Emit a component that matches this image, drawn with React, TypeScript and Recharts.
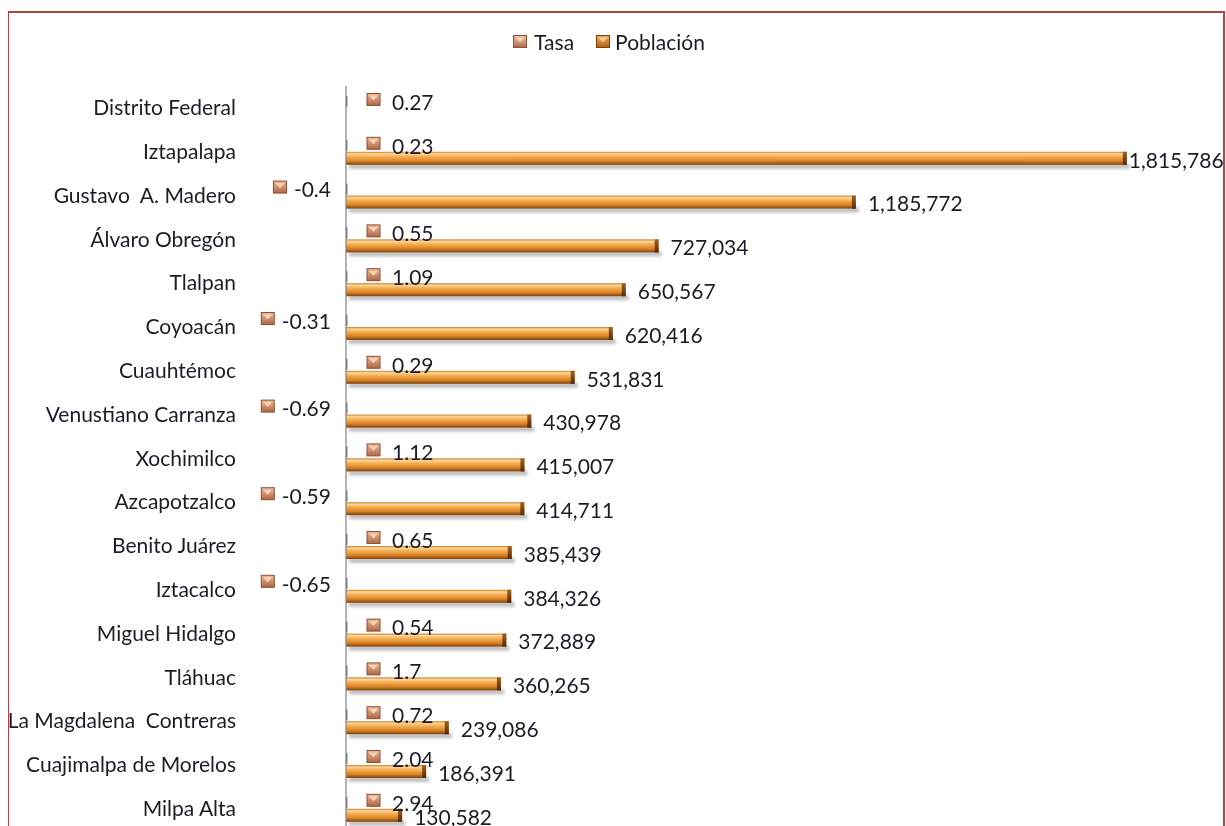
import React from 'react';
import { BarChart, Bar, XAxis, YAxis, Legend, LabelList } from 'recharts';

const categories = [
  'Distrito Federal',
  'Iztapalapa',
  'Gustavo  A. Madero',
  'Álvaro Obregón',
  'Tlalpan',
  'Coyoacán',
  'Cuauhtémoc',
  'Venustiano Carranza',
  'Xochimilco',
  'Azcapotzalco',
  'Benito Juárez',
  'Iztacalco',
  'Miguel Hidalgo',
  'Tláhuac',
  'La Magdalena  Contreras',
  'Cuajimalpa de Morelos',
  'Milpa Alta',
];

const tasaValues = [0.27, 0.23, -0.4, 0.55, 1.09, -0.31, 0.29, -0.69, 1.12, -0.59, 0.65, -0.65, 0.54, 1.7, 0.72, 2.04, 2.94];

const poblacionValues: (number | null)[] = [
  null, 1815786, 1185772, 727034, 650567, 620416, 531831, 430978, 415007,
  414711, 385439, 384326, 372889, 360265, 239086, 186391, 130582,
];

const seriesNames = ['Tasa', 'Población'];

const data = categories.map((name, i) => ({
  name,
  tasa: tasaValues[i],
  poblacion: poblacionValues[i],
}));

const FONT = 'Lato, "Open Sans", sans-serif';
const TEXT = '#1c1c28';
const FS = 21;
const CHART_W = 1218;
const LABEL_LIMIT = 1215;

function estWidth(s: string, fs: number) {
  let w = 0;
  for (const ch of s) {
    if (/[0-9]/.test(ch)) w += 0.58;
    else if (ch === '.' || ch === ',') w += 0.25;
    else if (ch === '-') w += 0.33;
    else w += 0.5;
  }
  return w * fs;
}

const fmt = (v: number) => v.toLocaleString('en-US');

const TasaIcon = ({ x, y }: { x: number; y: number }) => (
  <g>
    <rect x={x} y={y} width={13} height={12} fill="url(#tasaIconGrad)" stroke="#8e4f33" strokeWidth={1} />
    <path d={`M${x + 2},${y + 2} L${x + 11},${y + 2} L${x + 6.5},${y + 7} Z`} fill="#f8d8c0" opacity={0.9} />
  </g>
);

const TasaLabel = (props: any) => {
  const { x, y, height, value } = props;
  if (value == null) return null;
  const zero = Number(x);
  const cy = Number(y) + Number(height) / 2;
  const txt = String(value);
  if (value >= 0) {
    return (
      <g>
        <TasaIcon x={zero + 21} y={cy - 8} />
        <text x={zero + 46} y={cy + 1} dy="0.35em" fontFamily={FONT} fontSize={FS} fill={TEXT}>
          {txt}
        </text>
      </g>
    );
  }
  const w = estWidth(txt, FS);
  const end = zero - 15;
  return (
    <g>
      <TasaIcon x={end - w - 8 - 13} y={cy - 8} />
      <text x={end} y={cy + 1} dy="0.35em" textAnchor="end" fontFamily={FONT} fontSize={FS} fill={TEXT}>
        {txt}
      </text>
    </g>
  );
};

const PopLabel = (props: any) => {
  const { x, y, width, height, value } = props;
  if (value == null) return null;
  const txt = fmt(Number(value));
  const w = estWidth(txt, FS);
  let start = Number(x) + Number(width) + 12;
  if (start + w > LABEL_LIMIT) start = Math.max(Number(x) + Number(width) + 2, LABEL_LIMIT - w);
  const cy = Number(y) + Number(height) / 2 + 2;
  return (
    <text x={start} y={cy} dy="0.35em" fontFamily={FONT} fontSize={FS} fill={TEXT}>
      {txt}
    </text>
  );
};

const PopShape = (p: any) => {
  const { x, y, width, height } = p;
  if (!width || width <= 0) return null;
  return (
    <g>
      <rect x={x + 3} y={y + height - 1} width={width} height={5} fill="#000" opacity={0.25} filter="url(#barShadow)" />
      <rect x={x} y={y} width={width} height={height} fill="url(#popGrad)" />
      <rect x={x + width - 4} y={y} width={4} height={height} fill="url(#capGrad)" />
    </g>
  );
};

const TasaShape = (p: any) => {
  const { x, y, height } = p;
  return <rect x={Number(x) - 1} y={Number(y) + 1} width={2.5} height={Number(height) - 2} fill="#6a6a6a" opacity={0.85} />;
};

const CategoryTick = (props: any) => {
  const { x, y, payload } = props;
  return (
    <text
      x={x}
      y={y}
      dy="0.35em"
      textAnchor="end"
      fontFamily={FONT}
      fontSize={FS}
      fill={TEXT}
      xmlSpace="preserve"
      style={{ whiteSpace: 'pre' }}
    >
      {payload.value}
    </text>
  );
};

const legendIcon = (name: string) => {
  const id = name === 'Tasa' ? 'lgTasa' : 'lgPob';
  const [c1, c2, st] = name === 'Tasa' ? ['#f1c3a2', '#b06a4a', '#8e4f33'] : ['#f6b35a', '#b0600f', '#7a400c'];
  return (
    <svg width={14} height={13} style={{ display: 'block' }}>
      <defs>
        <linearGradient id={id} x1="0" y1="0" x2="0" y2="1">
          <stop offset="0" stopColor={c1} />
          <stop offset="1" stopColor={c2} />
        </linearGradient>
      </defs>
      <rect x={0.5} y={0.5} width={13} height={12} fill={`url(#${id})`} stroke={st} strokeWidth={1} />
      <path d="M2.5,2.5 L11.5,2.5 L7,7.5 Z" fill="#fff0e0" opacity={0.6} />
    </svg>
  );
};

const LegendContent = (props: any) => {
  const payload = [...(props.payload || [])].sort(
    (a: any, b: any) => seriesNames.indexOf(a.value) - seriesNames.indexOf(b.value)
  );
  return (
    <div
      style={{
        display: 'flex',
        justifyContent: 'center',
        alignItems: 'center',
        height: 30,
        fontFamily: FONT,
        fontSize: FS,
        color: TEXT,
        paddingRight: 16,
      }}
    >
      {payload.map((entry: any, i: number) => (
        <div key={i} style={{ display: 'flex', alignItems: 'center', marginLeft: i === 0 ? 0 : 22 }}>
          {legendIcon(entry.value)}
          <span style={{ marginLeft: i === 0 ? 7 : 5 }}>{entry.value}</span>
        </div>
      ))}
    </div>
  );
};

export default function App() {
  return (
    <div style={{ position: 'fixed', left: 8, top: 8, width: CHART_W, height: 818, overflow: 'hidden' }}>
      <div
        style={{
          position: 'absolute',
          left: -1,
          top: 3,
          width: 1218,
          height: 900,
          border: '2px solid #b24444',
          boxSizing: 'border-box',
          pointerEvents: 'none',
        }}
      />
      <div style={{ position: 'absolute', left: 0, top: 0 }}>
        <BarChart
          width={CHART_W}
          height={860}
          data={data}
          layout="vertical"
          margin={{ top: 48, right: 20, bottom: 37.4, left: 8 }}
          barSize={13}
          barGap={0}
        >
          <defs>
            <linearGradient id="popGrad" x1="0" y1="0" x2="0" y2="1">
              <stop offset="0" stopColor="#c97a25" />
              <stop offset="0.15" stopColor="#fcd799" />
              <stop offset="0.4" stopColor="#f4aa4c" />
              <stop offset="0.72" stopColor="#d98224" />
              <stop offset="1" stopColor="#7a400f" />
            </linearGradient>
            <linearGradient id="capGrad" x1="0" y1="0" x2="0" y2="1">
              <stop offset="0" stopColor="#a5601e" />
              <stop offset="1" stopColor="#55290a" />
            </linearGradient>
            <linearGradient id="tasaIconGrad" x1="0" y1="0" x2="0" y2="1">
              <stop offset="0" stopColor="#eebb98" />
              <stop offset="1" stopColor="#ad6646" />
            </linearGradient>
            <filter id="barShadow" x="-5%" y="-100%" width="110%" height="300%">
              <feGaussianBlur stdDeviation="1.5" />
            </filter>
          </defs>
          <XAxis type="number" domain={[0, 2000000]} allowDataOverflow hide />
          <YAxis
            type="category"
            dataKey="name"
            width={330}
            tickSize={0}
            tickMargin={110}
            tickLine={false}
            axisLine={{ stroke: '#808080', strokeWidth: 1.2 }}
            tick={<CategoryTick />}
            interval={0}
          />
          <Legend
            verticalAlign="top"
            align="center"
            wrapperStyle={{ top: 18, left: 0, width: CHART_W, height: 30 }}
            content={<LegendContent />}
          />
          <Bar dataKey="tasa" name={seriesNames[0]} fill="#c27a58" isAnimationActive={false} shape={<TasaShape />}>
            <LabelList dataKey="tasa" content={<TasaLabel />} />
          </Bar>
          <Bar dataKey="poblacion" name={seriesNames[1]} fill="#d9822b" isAnimationActive={false} shape={<PopShape />}>
            <LabelList dataKey="poblacion" content={<PopLabel />} />
          </Bar>
        </BarChart>
      </div>
    </div>
  );
}
